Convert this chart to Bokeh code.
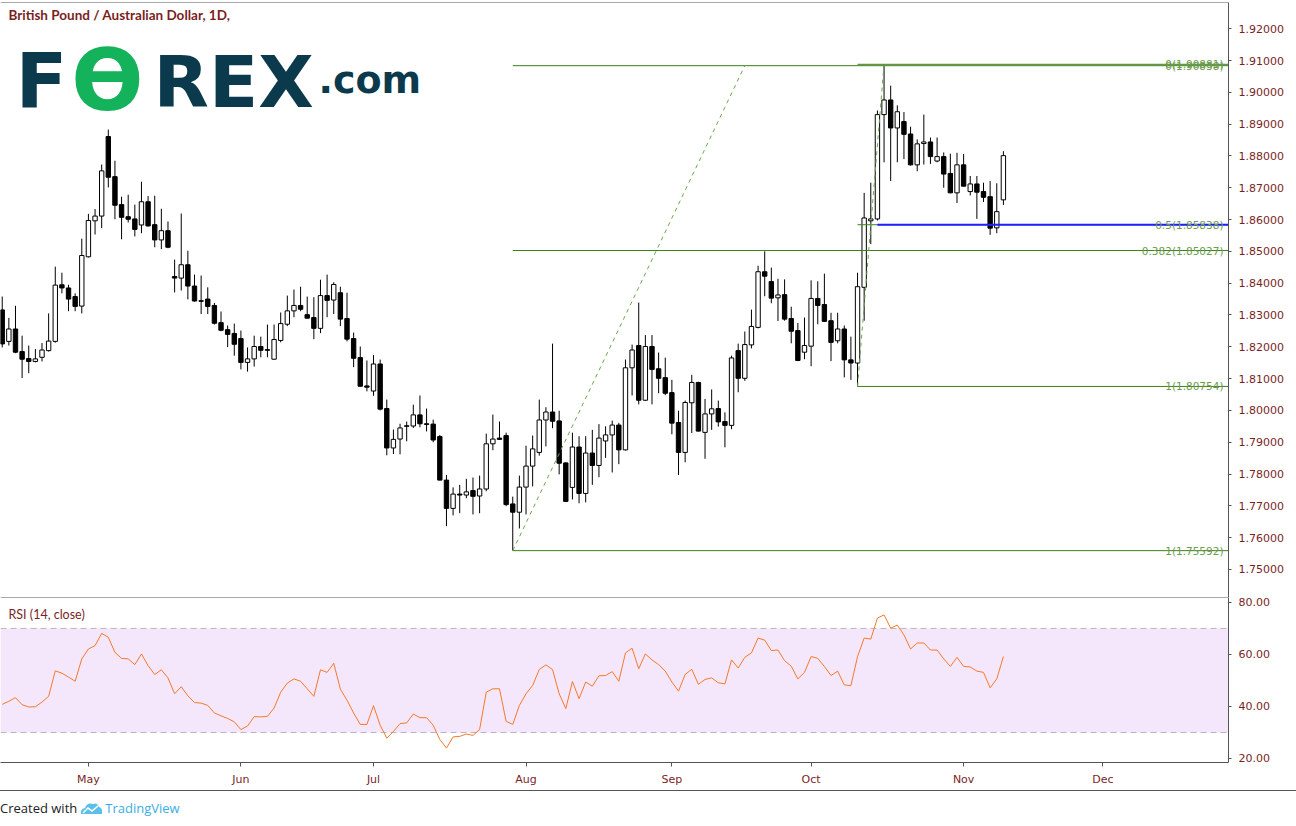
import numpy as np
from bokeh.plotting import figure
from bokeh.models import (ColumnDataSource, Range1d, FixedTicker, PrintfTickFormatter,
                          Span, BoxAnnotation, Label, Div)
from bokeh.layouts import column
from bokeh.embed import file_html
from bokeh.resources import INLINE

# ---------------- data (GBP/AUD daily) ----------------
opens = [1.8316, 1.8217, 1.8256, 1.8185, 1.8163, 1.8154, 1.8167, 1.8188, 1.8217, 1.8395,
         1.8385, 1.8358, 1.8328, 1.8483, 1.8596, 1.8611, 1.8861, 1.8735, 1.8647, 1.8609,
         1.8602, 1.8583, 1.8656, 1.8584, 1.8536, 1.8565, 1.8421, 1.8416, 1.8458, 1.8391,
         1.8345, 1.8350, 1.8330, 1.8276, 1.8254, 1.8242, 1.8226, 1.8151, 1.8162, 1.8201,
         1.8191, 1.8161, 1.8220, 1.8271, 1.8313, 1.8330, 1.8301, 1.8292, 1.8258, 1.8361,
         1.8347, 1.8370, 1.8289, 1.8226, 1.8166, 1.8077, 1.8061, 1.8146, 1.8006, 1.7882,
         1.7910, 1.7950, 1.7951, 1.7986, 1.7958, 1.7957, 1.7918, 1.7781, 1.7692, 1.7737,
         1.7734, 1.7748, 1.7731, 1.7753, 1.7895, 1.7913, 1.7921, 1.7706, 1.7680, 1.7759,
         1.7825, 1.7868, 1.7970, 1.7995, 1.7967, 1.7835, 1.7758, 1.7885, 1.7739, 1.7866,
         1.7827, 1.7904, 1.7923, 1.7954, 1.7876, 1.8134, 1.8204, 1.8032, 1.8201, 1.8131,
         1.8103, 1.8056, 1.7962, 1.7868, 1.8024, 1.8088, 1.7931, 1.7989, 1.8006, 1.7965,
         1.7953, 1.8188, 1.8101, 1.8206, 1.8261, 1.8436, 1.8405, 1.8354, 1.8364, 1.8289,
         1.8251, 1.8183, 1.8202, 1.8352, 1.8333, 1.8282, 1.8219, 1.8256, 1.8159, 1.8149,
         1.8387, 1.8596, 1.8602, 1.8930, 1.8976, 1.8888, 1.8908, 1.8869, 1.8772, 1.8839,
         1.8844, 1.8784, 1.8798, 1.8745, 1.8684, 1.8772, 1.8688, 1.8712, 1.8688, 1.8672,
         1.8574, 1.8662]
highs = [1.8358, 1.8291, 1.8329, 1.8235, 1.8204, 1.8193, 1.8212, 1.8305, 1.8452, 1.8433,
         1.8395, 1.8368, 1.8540, 1.8618, 1.8633, 1.8773, 1.8883, 1.8785, 1.8672, 1.8678,
         1.8647, 1.8719, 1.8674, 1.8675, 1.8634, 1.8594, 1.8474, 1.8619, 1.8502, 1.8427,
         1.8424, 1.8387, 1.8338, 1.8311, 1.8267, 1.8273, 1.8251, 1.8198, 1.8235, 1.8232,
         1.8270, 1.8270, 1.8308, 1.8361, 1.8380, 1.8389, 1.8358, 1.8356, 1.8411, 1.8427,
         1.8403, 1.8389, 1.8370, 1.8245, 1.8201, 1.8157, 1.8174, 1.8160, 1.8034, 1.7940,
         1.7958, 1.7965, 1.8018, 1.8047, 1.8006, 1.7971, 1.7923, 1.7797, 1.7758, 1.7766,
         1.7785, 1.7789, 1.7795, 1.7927, 1.7987, 1.7965, 1.7930, 1.7729, 1.7795, 1.7889,
         1.7921, 1.8034, 1.8010, 1.8210, 1.7999, 1.7837, 1.7930, 1.7919, 1.7919, 1.7939,
         1.7957, 1.7950, 1.7968, 1.7961, 1.8160, 1.8207, 1.8339, 1.8237, 1.8237, 1.8182,
         1.8166, 1.8096, 1.7999, 1.8031, 1.8112, 1.8090, 1.8036, 1.8066, 1.8031, 1.7994,
         1.8172, 1.8210, 1.8248, 1.8317, 1.8455, 1.8500, 1.8449, 1.8414, 1.8412, 1.8326,
         1.8275, 1.8292, 1.8409, 1.8406, 1.8430, 1.8307, 1.8307, 1.8267, 1.8232, 1.8433,
         1.8684, 1.8716, 1.8943, 1.90881, 1.9021, 1.8959, 1.8938, 1.8892, 1.8852, 1.8930,
         1.8858, 1.8858, 1.8811, 1.8807, 1.8810, 1.8806, 1.8737, 1.8737, 1.8716, 1.8721,
         1.8714, 1.8815]
lows = [1.8198, 1.8204, 1.8180, 1.8102, 1.8117, 1.8151, 1.8154, 1.8185, 1.8213, 1.8368,
        1.8312, 1.8312, 1.8305, 1.8481, 1.8553, 1.8573, 1.8701, 1.8601, 1.8538, 1.8591,
        1.8547, 1.8557, 1.8578, 1.8513, 1.8507, 1.8510, 1.8371, 1.8377, 1.8349, 1.8342,
        1.8303, 1.8303, 1.8270, 1.8249, 1.8199, 1.8172, 1.8129, 1.8122, 1.8138, 1.8167,
        1.8167, 1.8160, 1.8214, 1.8265, 1.8293, 1.8312, 1.8289, 1.8224, 1.8243, 1.8293,
        1.8303, 1.8265, 1.8217, 1.8136, 1.8075, 1.8060, 1.8046, 1.8000, 1.7859, 1.7863,
        1.7862, 1.7903, 1.7945, 1.7947, 1.7934, 1.7900, 1.7780, 1.7636, 1.7670, 1.7677,
        1.7724, 1.7673, 1.7677, 1.7746, 1.7875, 1.7907, 1.7699, 1.75592, 1.7629, 1.7673,
        1.7761, 1.7858, 1.7887, 1.7944, 1.7799, 1.7713, 1.7720, 1.7708, 1.7711, 1.7766,
        1.7790, 1.7851, 1.7805, 1.7831, 1.7874, 1.8047, 1.8019, 1.8030, 1.8019, 1.8054,
        1.8048, 1.7925, 1.7797, 1.7837, 1.7929, 1.7934, 1.7848, 1.7939, 1.7949, 1.7884,
        1.7941, 1.8057, 1.8093, 1.8195, 1.8258, 1.8359, 1.8337, 1.8281, 1.8282, 1.8211,
        1.8155, 1.8161, 1.8139, 1.8271, 1.8279, 1.8155, 1.8211, 1.8104, 1.8096, 1.80754,
        1.8282, 1.8523, 1.8597, 1.8780, 1.8721, 1.8780, 1.8790, 1.8770, 1.8752, 1.8773,
        1.8775, 1.8780, 1.8700, 1.8683, 1.8652, 1.8704, 1.8676, 1.8602, 1.8655, 1.8552,
        1.8557, 1.8646]
closes = [1.8209, 1.8256, 1.8183, 1.8161, 1.8154, 1.8162, 1.8190, 1.8218, 1.8394, 1.8385,
          1.8350, 1.8327, 1.8487, 1.8597, 1.8611, 1.8753, 1.8733, 1.8645, 1.8607, 1.8601,
          1.8569, 1.8656, 1.8580, 1.8536, 1.8565, 1.8513, 1.8416, 1.8458, 1.8391, 1.8344,
          1.8343, 1.8327, 1.8274, 1.8252, 1.8239, 1.8208, 1.8151, 1.8162, 1.8201, 1.8189,
          1.8189, 1.8223, 1.8273, 1.8313, 1.8330, 1.8318, 1.8290, 1.8258, 1.8361, 1.8346,
          1.8396, 1.8287, 1.8224, 1.8164, 1.8076, 1.8073, 1.8146, 1.8004, 1.7882, 1.7909,
          1.7945, 1.7952, 1.7986, 1.7958, 1.7956, 1.7907, 1.7781, 1.7692, 1.7737, 1.7734,
          1.7744, 1.7730, 1.7753, 1.7895, 1.7910, 1.7909, 1.7704, 1.7680, 1.7759, 1.7825,
          1.7879, 1.7970, 1.7995, 1.7966, 1.7834, 1.7714, 1.7885, 1.7739, 1.7866, 1.7827,
          1.7913, 1.7923, 1.7954, 1.7876, 1.8134, 1.8190, 1.8032, 1.8201, 1.8129, 1.8101,
          1.8054, 1.7960, 1.7868, 1.8025, 1.8088, 1.7935, 1.7989, 1.8005, 1.7964, 1.7953,
          1.8165, 1.8101, 1.8207, 1.8264, 1.8436, 1.8422, 1.8353, 1.8363, 1.8287, 1.8249,
          1.8157, 1.8204, 1.8352, 1.8330, 1.8280, 1.8214, 1.8256, 1.8159, 1.8149, 1.8389,
          1.8605, 1.8602, 1.8930, 1.8976, 1.8888, 1.8939, 1.8868, 1.8772, 1.8838, 1.8844,
          1.8798, 1.8798, 1.8743, 1.8684, 1.8772, 1.8705, 1.8712, 1.8686, 1.8670, 1.8573,
          1.8625, 1.8801]
rsi = [40.8, 42.0, 43.4, 40.7, 39.8, 39.9, 41.7, 43.9, 53.7, 52.8, 51.3, 49.7,
       58.3, 62.1, 63.4, 68.1, 66.6, 60.8, 58.5, 58.3, 56.1, 60.2,
       55.7, 52.3, 54.1, 51.0, 44.9, 47.6, 44.1, 41.5, 41.3, 40.4,
       37.5, 36.4, 35.4, 34.1, 31.1, 32.5, 36.1, 36.0, 36.2, 39.4,
       45.5, 49.0, 50.6, 49.7, 46.8, 43.9, 54.1, 53.1, 56.6, 46.7,
       42.4, 37.5, 33.1, 33.1, 40.3, 32.8, 27.8, 30.4, 33.4, 33.7,
       37.1, 35.7, 35.7, 32.8, 27.3, 24.0, 28.3, 28.5, 29.4, 28.9,
       31.1, 45.5, 46.8, 46.8, 34.3, 33.1, 40.4, 44.9, 48.1, 54.2,
       56.0, 54.2, 44.9, 39.2, 49.6, 43.0, 49.4, 47.8, 51.8, 51.9,
       53.4, 49.7, 60.6, 62.4, 54.5, 60.2,
       57.9, 56.1, 53.6, 49.4, 45.9, 52.3, 54.3, 48.5, 50.4, 51.0,
       49.1, 48.7, 57.9, 54.8, 58.9, 60.6, 66.3, 65.5, 61.5, 61.7,
       57.6, 55.5, 50.6, 53.1, 59.2, 58.5, 55.4, 51.9, 53.6, 48.3,
       48.0, 59.2, 66.3, 65.9, 74.0, 75.2, 70.1, 71.3, 67.5, 62.1,
       64.4, 64.4, 61.7, 61.7, 58.3, 55.4, 58.9, 55.4, 55.2, 53.6,
       53.1, 47.2, 50.6, 59.2]

month_ticks = [13, 36, 56, 79, 101, 122, 145, 166]
month_labels = ["May", "Jun", "Jul", "Aug", "Sep", "Oct", "Nov", "Dec"]
price_ticks = [1.75, 1.76, 1.77, 1.78, 1.79, 1.80, 1.81, 1.82, 1.83,
               1.84, 1.85, 1.86, 1.87, 1.88, 1.89, 1.90, 1.91, 1.92]
rsi_ticks = [20, 40, 60, 80]
rsi_band = [30, 70]

# Fibonacci retracements (anchor bars and levels)
fib1_anchor = [77, 112]
fib1_names = ["0", "0.382", "1"]
fib1_levels = [1.90838, 1.85027, 1.75592]
fib2_anchor = [129, 133]
fib2_names = ["0", "0.5", "1"]
fib2_levels = [1.90881, 1.85838, 1.80754]
support_start = [132]
support_level = [1.85838]

# ---------------- styling ----------------
MAROON = "#7a1f1f"
AXIS = "#555555"
FIB_LINE = "#3d7f1c"
FIB_TEXT = "#6c9c4e"
FIB_DASH = "#6aa84f"
W = 1296
FRAME_W = 1228
H1 = 595      # main pane frame height
H2 = 165      # RSI pane frame height
X0, X1 = -0.26, 184.95
Y0, Y1 = 1.74119, 1.92824
R0, R1 = 18.46, 81.9

n = len(closes)
idx = np.arange(n)
o = np.array(opens); c = np.array(closes)
src = ColumnDataSource(dict(
    x=idx, open=o, close=c, high=highs, low=lows,
    top=np.maximum(o, c), bottom=np.minimum(o, c),
    fill=["white" if cc >= oo else "black" for oo, cc in zip(o, c)],
))

p1 = figure(width=W, height=H1 + 2, x_range=Range1d(X0, X1), y_range=Range1d(Y0, Y1),
            x_axis_location=None, y_axis_location="right", toolbar_location=None,
            output_backend="svg", min_border_left=0, min_border_right=W - FRAME_W,
            min_border_top=2, min_border_bottom=0)
p1.grid.visible = False
p1.outline_line_color = None
p1.background_fill_color = "white"
p1.border_fill_color = "white"

ya = p1.yaxis[0]
ya.ticker = FixedTicker(ticks=price_ticks)
ya.formatter = PrintfTickFormatter(format="%.5f")

def style_yaxis(ax):
    ax.axis_line_color = AXIS
    ax.major_tick_line_color = AXIS
    ax.major_tick_out = 3
    ax.major_tick_in = 0
    ax.minor_tick_out = 0
    ax.minor_tick_in = 0
    ax.major_label_text_color = MAROON
    ax.major_label_text_font = "DejaVu Sans"
    ax.major_label_text_font_size = "11px"
    ax.major_label_standoff = 7

style_yaxis(ya)

# candles
p1.segment(x0="x", y0="high", x1="x", y1="low", source=src, line_color="black", line_width=1)
p1.vbar(x="x", top="top", bottom="bottom", width=0.66, fill_color="fill",
        line_color="black", line_width=1, source=src)

# fib 1
p1.ray(x=[fib1_anchor[0]] * len(fib1_levels), y=fib1_levels, length=0, angle=0,
       line_color=FIB_LINE, line_width=1)
p1.line(x=fib1_anchor, y=[fib1_levels[-1], fib1_levels[0]], line_color=FIB_DASH,
        line_width=1, line_dash="4 4")
# fib 2
p1.ray(x=[fib2_anchor[0]] * len(fib2_levels), y=fib2_levels, length=0, angle=0,
       line_color=FIB_LINE, line_width=1)
p1.line(x=fib2_anchor, y=[fib2_levels[-1], fib2_levels[0]], line_color=FIB_DASH,
        line_width=1, line_dash="4 4")
# blue support ray
p1.ray(x=support_start, y=support_level, length=0, angle=0, line_color="#1f1fff", line_width=2)

for names, levels in ((fib1_names, fib1_levels), (fib2_names, fib2_levels)):
    for nm, lv in zip(names, levels):
        p1.add_layout(Label(x=FRAME_W - 5, x_units="screen", y=lv, text=f"{nm}({lv:.5f})",
                            text_align="right", text_baseline="middle", text_color=FIB_TEXT,
                            text_font="DejaVu Sans", text_font_size="10.5px"))

p1.add_layout(Span(location=Y1, dimension="width", line_color=AXIS, line_width=1))

# title + logo  (screen y measured from the bottom of the frame)
p1.add_layout(Label(x=8, y=H1 - 17 + 4.5, x_units="screen", y_units="screen",
                    text="British Pound / Australian Dollar, 1D,", text_color=MAROON,
                    text_font="Lato", text_font_style="bold", text_font_size="13.5px",
                    text_baseline="alphabetic"))
LOGO = "#0b3a4c"
LOGO_Y = H1 - 106 + 26.6
p1.add_layout(Label(x=15, y=LOGO_Y, x_units="screen", y_units="screen", text="F",
                    text_color=LOGO, text_font="DejaVu Sans", text_font_style="bold",
                    text_font_size="76px", text_baseline="alphabetic"))
p1.add_layout(Label(x=107, y=H1 - 108 + 30, x_units="screen", y_units="screen", text="Ө",
                    text_color="#14b25a", text_font="DejaVu Sans", text_font_style="bold",
                    text_font_size="85px", text_baseline="alphabetic", text_align="center"))
p1.add_layout(Label(x=153, y=LOGO_Y, x_units="screen", y_units="screen", text="REX",
                    text_color=LOGO, text_font="DejaVu Sans", text_font_style="bold",
                    text_font_size="72px", text_baseline="alphabetic"))
p1.add_layout(Label(x=318, y=H1 - 90.5 + 13.3, x_units="screen", y_units="screen", text=".com",
                    text_color=LOGO, text_font="DejaVu Sans", text_font_style="bold",
                    text_font_size="38px", text_baseline="alphabetic"))

# ---------------- RSI pane ----------------
p2 = figure(width=W, height=H2 + 28, x_range=p1.x_range, y_range=Range1d(R0, R1),
            x_axis_location="below", y_axis_location="right", toolbar_location=None,
            output_backend="svg", min_border_left=0, min_border_right=W - FRAME_W,
            min_border_top=0, min_border_bottom=28)
p2.grid.visible = False
p2.outline_line_color = None
p2.add_layout(BoxAnnotation(bottom=rsi_band[0], top=rsi_band[1], fill_color="#f4e6fb",
                            fill_alpha=1, line_color=None, level="underlay"))
for lv in rsi_band:
    p2.add_layout(Span(location=lv, dimension="width", line_color="#bdb3c2",
                       line_width=1, line_dash="6 4", level="underlay"))
p2.line(x=idx, y=rsi, line_color="#f47a2a", line_width=1)
p2.add_layout(Span(location=R1, dimension="width", line_color=AXIS, line_width=1))

ry = p2.yaxis[0]
ry.ticker = FixedTicker(ticks=rsi_ticks)
ry.formatter = PrintfTickFormatter(format="%.2f")
style_yaxis(ry)

xa = p2.xaxis[0]
xa.ticker = FixedTicker(ticks=month_ticks)
xa.major_label_overrides = {t: l for t, l in zip(month_ticks, month_labels)}
xa.axis_line_color = AXIS
xa.major_tick_line_color = AXIS
xa.major_tick_out = 4
xa.major_tick_in = 0
xa.minor_tick_out = 0
xa.minor_tick_in = 0
xa.major_label_text_color = MAROON
xa.major_label_text_font = "DejaVu Sans"
xa.major_label_text_font_size = "11px"
xa.major_label_standoff = 6

p2.add_layout(Label(x=8, y=H2 - 21 + 4.4, x_units="screen", y_units="screen",
                    text="RSI (14, close)", text_color=MAROON, text_font="Lato",
                    text_font_size="12.5px", text_baseline="alphabetic"))

icon = ('<svg width="24" height="14" viewBox="0 0 24 14" style="vertical-align:-2px;margin:0 2px">'
        '<path d="M2 13 Q1 8 6 7 Q8 1 14 3 Q18 1 20 6 Q24 7 23 13 Z" fill="#5bbfec"/>'
        '<path d="M4 12 L9 7 L13 10 L19 5" stroke="white" stroke-width="1.6" fill="none"/></svg>')
credit = Div(text=('<div style="font-family:\'Open Sans\',sans-serif;font-size:13px;color:#222;'
                   'padding-top:8px;white-space:nowrap">Created with' + icon +
                   '<span style="color:#3aaee3">TradingView</span></div>'),
             width=W, height=34, margin=0, styles={"border-top": "1px solid #555"})

layout = column(p1, p2, credit, spacing=0)
open("out.html", "w").write(file_html(layout, INLINE))
